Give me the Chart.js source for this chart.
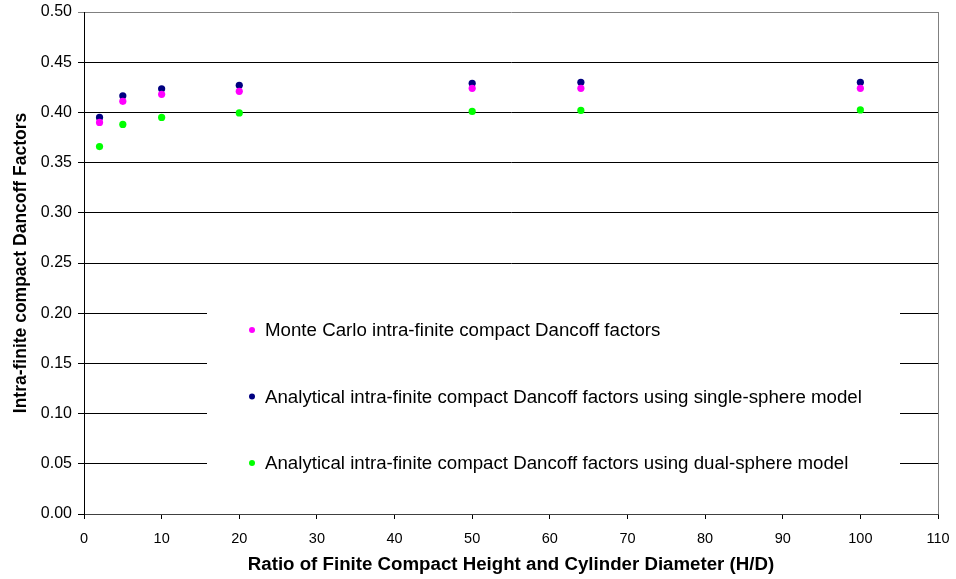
<!DOCTYPE html>
<html><head><meta charset="utf-8">
<script src="https://cdn.jsdelivr.net/npm/chart.js@4/dist/chart.umd.min.js"></script>
<style>html,body{margin:0;padding:0;background:#fff}#wrap{width:956px;height:579px}</style>
</head><body><div id="wrap"><canvas id="c" width="956" height="579"></canvas></div>
<script>
// H/D ratios of the finite compacts
const ratioHD = [2, 5, 10, 20, 50, 64, 100];
// Intra-finite compact Dancoff factors
const monteCarlo   = [0.390, 0.411, 0.418, 0.421, 0.424, 0.424, 0.424];
const singleSphere = [0.395, 0.4165, 0.4235, 0.427, 0.429, 0.430, 0.430];
const dualSphere   = [0.366, 0.388, 0.395, 0.3995, 0.401, 0.402, 0.4025];
const seriesLabels = [
  'Monte Carlo intra-finite compact Dancoff factors',
  'Analytical intra-finite compact Dancoff factors using single-sphere model',
  'Analytical intra-finite compact Dancoff factors using dual-sphere model'
];
const seriesColors = ['#FF00FF', '#000080', '#00FF00'];
const xTitle = 'Ratio of Finite Compact Height and Cylinder Diameter (H/D)';
const yTitle = 'Intra-finite compact Dancoff Factors';

const toPoints = vals => ratioHD.map((x, i) => ({x, y: vals[i]}));
const allSeries = [monteCarlo, singleSphere, dualSphere];

const FONT = 'Arial, "Liberation Sans", sans-serif';

// In-plot legend on a white panel, plus the grey plot border on the right
const insideLegend = {
  id: 'insideLegend',
  afterDatasetsDraw(chart) {
    const ctx = chart.ctx;
    const area = chart.chartArea;
    ctx.save();
    ctx.strokeStyle = '#808080';
    ctx.lineWidth = 1;
    ctx.beginPath();
    ctx.moveTo(area.right + 0.5, area.top);
    ctx.lineTo(area.right + 0.5, area.bottom);
    ctx.stroke();

    ctx.fillStyle = '#ffffff';
    ctx.fillRect(207, 288, 693, 206);
    ctx.font = '18.7px ' + FONT;
    ctx.textBaseline = 'middle';
    ctx.textAlign = 'left';
    chart.data.datasets.forEach((ds, i) => {
      const y = 330 + i * 66.5;
      ctx.fillStyle = ds.backgroundColor;
      ctx.beginPath();
      ctx.arc(252, y, 3, 0, Math.PI * 2);
      ctx.fill();
      ctx.fillStyle = '#000000';
      ctx.fillText(ds.label, 265, y + 1);
    });
    ctx.restore();
  }
};

new Chart(document.getElementById('c'), {
  type: 'scatter',
  data: {
    datasets: allSeries.map((vals, i) => ({
      label: seriesLabels[i],
      data: toPoints(vals),
      backgroundColor: seriesColors[i],
      borderColor: seriesColors[i],
      pointRadius: 3.6,
      pointBorderWidth: 0,
      showLine: false
    }))
  },
  options: {
    responsive: false,
    animation: false,
    devicePixelRatio: 1,
    layout: {padding: {top: 8, right: 18, left: 0, bottom: 0}},
    plugins: {legend: {display: false}, tooltip: {enabled: false}},
    scales: {
      x: {
        type: 'linear', min: 0, max: 110,
        ticks: {stepSize: 10, color: '#000', font: {family: FONT, size: 14.5, lineHeight: 2.25}, padding: 4, maxRotation: 0},
        grid: {drawOnChartArea: false, color: '#000', tickLength: 5},
        border: {color: '#404040', width: 1},
        title: {display: true, text: xTitle, color: '#000', font: {family: FONT, size: 18.7, weight: 'bold'}, padding: {top: 3, bottom: 3}},
        afterFit(s) { s.height = 65; }
      },
      y: {
        type: 'linear', min: 0, max: 0.5,
        ticks: {stepSize: 0.05, color: '#000', font: {family: FONT, size: 16, lineHeight: 0.75}, padding: 6,
                callback: v => Number(v).toFixed(2)},
        grid: {color: ctx => (ctx.tick && ctx.tick.value >= 0.5 - 1e-9) ? '#808080' : '#000', tickLength: 6, lineWidth: 1},
        border: {color: '#000', width: 1},
        title: {display: true, text: yTitle, color: '#000', font: {family: FONT, size: 17.5, weight: 'bold'}, padding: {top: 11, bottom: 11}},
        afterFit(s) { s.width = 84; }
      }
    }
  },
  plugins: [insideLegend]
});
</script>
</body></html>
